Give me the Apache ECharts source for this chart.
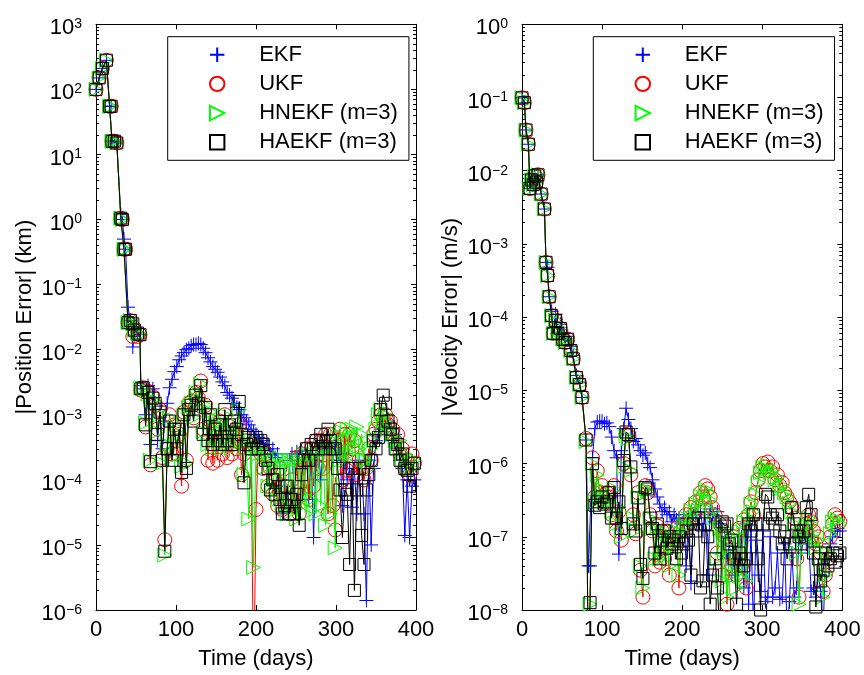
<!DOCTYPE html>
<html><head><meta charset="utf-8">
<script src="https://cdn.jsdelivr.net/npm/echarts@6/dist/echarts.min.js"></script>
<style>html,body{margin:0;padding:0;background:#fff}#c{width:864px;height:675px}</style>
</head><body><div id="c"></div>
<script>
const SERIES_NAMES = ['EKF', 'UKF', 'HNEKF (m=3)', 'HAEKF (m=3)'];
const X_TITLE = 'Time (days)';
const Y_TITLE_LEFT = '|Position Error| (km)';
const Y_TITLE_RIGHT = '|Velocity Error| (m/s)';

// ---------- Left panel: position error (km) ----------
const L_DAYS = [0,4,8,13,17,19,20,23,26,31,33,35,37,40,43,46,48,52,55,
  56,59,62,65,68,71,74,77,80,83, 86,89,92,95,98,101,104,107,110,113,
  116,119,122,125,128,131,134,137,140,143, 146,149,152,155,158,161,164,167,170,173,
  176,179,182,185,188,191,194,197,
  200,203,206,209,212,215,218,221,224,227, 230,233,236,239,242,245,248,251,254,257,
  260,263,266,269,272,275,278,281,284,287, 290,293,296,299,302,305,308,311,314,317,
  320,323,326,329,332,335,338,341,344,347, 350,353,356,359,362,365,368,371,374,377,
  380,383,386,389,392,395,398];

const L_EKF = [100,150,210,280,55,55,16,16,15,1.2,1.0,0.5,0.35,0.045,0.028,0.011,0.02,0.018,0.017,
  2.8e-3,2.5e-3,1e-3,2.8e-3,3.5e-4,2.5e-3,1.5e-3,4e-4,1.2e-3,3e-4,
  8e-4,1.5e-3,2.6e-3,3.5e-3,4.6e-3,5.5e-3,7e-3,8e-3,9e-3,1e-2,
  1.05e-2,1.15e-2,1.2e-2,1.2e-2,1.25e-2,1.2e-2,1.05e-2,9e-3,7.5e-3,6.5e-3,
  5.5e-3,5e-3,4.5e-3,3.8e-3,3.2e-3,2.8e-3,2.2e-3,2e-3,1.8e-3,1.5e-3,
  1.3e-3,1.2e-3,1e-3,9e-4,8e-4,7e-4,6e-4,5.5e-4,
  5e-4,4.5e-4,3.5e-4,4e-4,3e-4,3.5e-4,2.5e-4,3e-4,2.2e-4,2.5e-4,
  1.5e-4,3e-5,8e-5,4e-5,2e-4,2.5e-4,6e-5,2.7e-4,2.5e-4,2.8e-4,
  1.5e-4,2.5e-4,5e-5,2.5e-4,1.3e-5,2e-4,3e-4,1e-4,3e-4,4e-4,
  3e-4,4e-4,2e-4,3.5e-4,2e-4,2.5e-4,4e-5,2.5e-4,1e-4,1.5e-4,
  3.8e-5,1.5e-4,3e-5,2e-4,1.5e-4,3e-5,1.4e-6,2e-4,1e-5,1.5e-4,
  4e-4,5e-4,6e-4,7e-4,5e-4,8e-4,6e-4,4e-4,5e-4,3e-4,
  2e-4,1.5e-4,1.4e-5,1e-4,1.3e-5,8e-5,1e-4];

const L_UKF = [100,150,210,280,55,55,16,16,15,1.05,1.0,0.35,0.35,0.026,0.028,0.016,0.02,0.016,0.017,
  2.4e-3,2.6e-3,6.5e-4,2.3e-3,1.7e-4,1.9e-3,1.4e-3,6e-4,1.2e-3,2.2e-4,
  1.2e-5,3e-4,1e-3,2.5e-4,7e-4,2.5e-4,5e-4,8e-5,1.1e-3,2e-4,
  1.5e-3,1.6e-3,9e-4,2.2e-3,1.8e-3,3.3e-3,6e-4,1.4e-3,2e-4,8e-4,
  1.8e-4,6e-4,2e-4,8e-4,2.5e-4,1e-3,2.2e-4,5e-4,2.5e-4,4e-4,
  3e-4,7e-4,1.2e-4,2.5e-4,4e-4,3.5e-4,3e-4,5e-8,
  3.5e-5,3e-4,2.5e-4,1.5e-4,2.5e-4,8e-5,1.5e-4,6e-5,1e-4,4e-5,
  1.5e-4,3.5e-5,8e-5,4e-5,3e-5,1e-4,4e-5,2.2e-4,3e-5,2.5e-4,
  6e-5,3e-4,5e-5,3e-4,8e-5,4e-4,1.5e-4,4e-4,1.5e-4,5e-4,
  3e-5,5e-4,4e-5,1.7e-5,4e-4,6e-4,1e-4,5e-4,1.4e-4,5e-4,
  3e-4,4e-4,1.2e-4,2e-4,1.5e-4,1e-4,1.5e-4,3e-4,2e-4,5e-4,
  6e-4,8e-4,1e-3,9e-4,1e-3,7e-4,8e-4,6e-4,4e-4,5e-4,
  2.5e-4,3e-4,1.5e-4,2e-4,1.2e-4,2.5e-4,1.8e-4];

const L_HNEKF = [100,150,210,280,55,55,16,16,15,1.05,1.0,0.35,0.35,0.026,0.028,0.025,0.02,0.018,0.017,
  2.6e-3,2.5e-3,7.5e-4,2.1e-3,2e-4,1.7e-3,1.6e-3,5.5e-4,1e-3,1.8e-4,
  7e-6,3.5e-4,9e-4,2.2e-4,5.5e-4,3.5e-4,6e-4,1.6e-4,1e-3,1.8e-4,
  1.3e-3,1.5e-3,9e-4,2.2e-3,1.7e-3,3e-3,5.5e-4,1.4e-3,3.5e-4,1.1e-3,
  3e-4,7e-4,4.5e-4,8e-4,3e-4,1e-3,3.5e-4,6e-4,3e-4,7e-4,
  5e-4,1.2e-3,4e-4,1.2e-4,3e-4,2.5e-5,4e-4,4.5e-6,
  3e-4,2.5e-4,3e-4,1.5e-4,2.5e-4,8e-5,2e-4,7e-5,2e-4,5e-5,
  2.2e-4,4e-5,2e-4,3e-5,2e-4,4e-5,2e-4,2.5e-5,2e-4,4e-5,
  2.5e-4,3e-5,2.5e-4,5e-5,2.5e-4,3e-5,2.5e-4,4e-5,3e-4,2e-5,
  3e-4,3e-5,4e-4,9e-6,5e-4,2e-4,5.5e-4,2e-4,6e-4,2.5e-4,
  6e-4,3e-4,6.5e-4,3e-4,5e-4,2e-4,2e-4,1.5e-4,3e-4,4e-4,
  6e-4,1e-3,1.2e-3,8e-4,1e-3,6e-4,7e-4,5e-4,4e-4,3e-4,
  4e-4,2e-4,2.5e-4,1.5e-4,2e-4,1.5e-4,2e-4];

const L_HAEKF = [100,150,210,280,55,55,16,16,15,1.05,1.0,0.35,0.35,0.026,0.028,0.025,0.02,0.018,0.017,
  2.5e-3,2.6e-3,7e-4,2.2e-3,1.9e-4,1.8e-3,1.5e-3,5e-4,1.1e-3,2e-4,
  8e-6,3e-4,8e-4,2e-4,6e-4,3e-4,6e-4,1.3e-4,1e-3,1.5e-4,
  1.2e-3,1.4e-3,8e-4,2e-3,1.5e-3,2.8e-3,5e-4,1.3e-3,4e-4,1e-3,
  3.5e-4,6e-4,4e-4,7e-4,3.5e-4,1.2e-3,4e-4,7e-4,3.5e-4,8e-4,
  6e-4,1.6e-3,5e-4,9e-5,3.5e-4,4.5e-4,3e-4,4e-4,
  4.5e-4,3e-4,4e-4,3.5e-4,2e-4,1.5e-4,7e-5,1e-4,6e-5,1.2e-4,
  5e-5,3e-5,4e-5,8e-5,3e-5,5e-5,3e-5,6e-5,2e-5,1.2e-4,
  2e-4,3e-4,2e-4,3.5e-4,3e-4,4e-4,3e-4,5e-4,4e-4,3e-4,
  6e-4,4e-4,3e-4,3e-4,1.5e-4,7e-5,1.3e-5,7e-5,6e-5,5e-6,
  1.5e-4,2e-6,7e-5,1.5e-4,1.4e-5,5e-6,7e-5,1.2e-4,2e-4,4e-4,
  3e-4,4.5e-4,1.2e-3,2e-3,1.5e-3,8e-4,6e-4,5e-4,3e-4,3.5e-4,
  2e-4,2.5e-4,1.5e-4,1.4e-4,8e-5,1.5e-4,1.8e-4];

// ---------- Right panel: velocity error (m/s) ----------
const R_DAYS = [0,3,5,8,10,12,14,16,18,20,24,28,30,32,34,37,39,42,45,48,51,54,57,61,64,68,72,75,80,83,85,88,
  91,94,97,100,103,106,109,112,115,118, 121,124,127,130,133,136,139,142,145,148,
  151,154,157,160,163,166,169,172,175,178, 181,184,187,190,193,196,199,202,205,208,
  211,214,217,220,223,226,229,232,235,238, 241,244,247,250,253,256,259,262,265,268,
  271,274,277,280,283,286,289,292,295,298, 301,304,307,310,313,316,319,322,325,328,
  331,334,337,340,343,346,349,352,355,358, 361,364,367,370,373,376,379,382,385,388,
  391,394,397];

const R_EKF = [0.099,0.085,0.036,0.023,5.7e-3,7.5e-3,6.5e-3,8.5e-3,7e-3,8.8e-3,4.8e-3,3e-3,5.6e-4,4.8e-4,1.9e-4,
  1.2e-4,7e-5,1.1e-4,6e-5,8e-5,6e-5,5e-5,5.5e-5,4e-5,3e-5,1.6e-5,1.3e-5,8e-6,2.1e-6,4e-8,4e-8,1.2e-6,
  3e-6,3.7e-6,3.8e-6,3.8e-6,3.5e-6,3.6e-6,3.2e-6,2.3e-6,1.5e-6,1.2e-6,
  5.8e-8,1.5e-6,3e-6,5.7e-6,4e-6,3e-6,2e-6,2.2e-6,1.8e-6,1.5e-6,
  1.3e-6,1.4e-6,1e-6,8.8e-7,6e-7,4.5e-7,3.5e-7,2.8e-7,2.2e-7,2.5e-7,
  2e-7,2.2e-7,1.6e-7,2e-7,1.7e-7,1.8e-7,1.5e-7,2e-7,4e-8,1.8e-7,
  2.3e-8,2e-7,2e-7,1.5e-7,2.2e-7,1.2e-7,2.2e-7,3e-8,2.4e-7,2e-7,
  1.6e-7,2.2e-7,1.5e-7,6e-8,1e-7,5e-8,8e-8,3e-8,5e-8,6e-8,
  4e-8,1e-7,2e-8,1.5e-7,1.2e-8,1.2e-7,6e-9,9e-8,3e-8,1.8e-8,
  1.2e-7,1.3e-8,1.5e-8,1e-7,1.5e-8,2e-8,6e-8,1.4e-8,1.5e-8,8e-8,
  5e-9,1.3e-8,6e-8,1.5e-8,2e-8,1e-7,6e-8,1.1e-7,8e-8,1e-7,
  1.8e-8,2e-8,1.5e-8,3e-8,1.8e-8,5e-9,5e-8,6e-8,8e-8,1e-7,
  1.2e-7,1.3e-7,1.2e-7];

const R_UKF = [0.099,0.085,0.036,0.023,5.7e-3,7.5e-3,6.5e-3,8.5e-3,7e-3,8.8e-3,4.8e-3,3e-3,5.6e-4,3.7e-4,1.9e-4,
  1.05e-4,6e-5,9e-5,6e-5,7e-5,5e-5,4.5e-5,5e-5,3.5e-5,2.7e-5,1.5e-5,1.2e-5,8e-6,2.2e-6,1e-9,1e-9,1.2e-6,
  3.5e-7,8e-7,4e-7,5e-7,3e-7,4e-7,3.5e-7,2e-7,5e-7,1.2e-7,
  2.2e-7,9e-8,1e-6,2.5e-6,2.4e-6,7e-7,2e-7,1.1e-7,4e-7,3.5e-8,
  1.5e-8,5e-7,4e-7,2e-7,1.2e-7,4e-8,1.4e-7,4.5e-8,1.2e-7,5e-8,
  1.2e-7,3e-8,1e-7,8e-8,1.3e-7,2e-8,1.2e-7,1.5e-7,2e-7,1.5e-7,
  2.5e-7,2e-7,3e-7,2.5e-7,4e-7,3.5e-7,5e-7,4.5e-7,3.5e-7,2.5e-7,
  2e-7,6e-8,1.5e-7,3e-8,1e-7,1.2e-8,6e-8,4e-8,1e-7,3e-8,
  1.3e-7,4e-8,1.7e-7,2e-8,2e-7,3e-7,2e-7,4e-7,6e-7,8e-7,
  1e-6,9e-7,1.05e-6,8e-7,9e-7,6e-7,7e-7,5e-7,5.5e-7,4e-7,
  3.5e-7,3e-7,2.5e-7,1.8e-7,5e-8,1.5e-8,1.2e-7,1e-7,1.5e-7,2e-7,
  1.6e-7,1.2e-7,8e-8,1e-7,6e-8,1.8e-8,3e-8,5e-8,1e-7,1.5e-7,
  2e-7,1.8e-7,1.6e-7];

const R_HNEKF = [0.099,0.085,0.036,0.023,5.7e-3,7.5e-3,6.5e-3,8.5e-3,7e-3,8.8e-3,4.8e-3,3e-3,5.6e-4,3.7e-4,1.9e-4,
  1.05e-4,6e-5,9e-5,6e-5,7e-5,5e-5,4.5e-5,5e-5,3.5e-5,2.7e-5,1.5e-5,1.2e-5,8e-6,2e-6,1e-9,1.2e-8,1e-6,
  3e-7,7e-7,3.5e-7,4.5e-7,3e-7,3.5e-7,3e-7,2.2e-7,4.5e-7,1.5e-7,
  2.5e-7,1e-7,9e-7,2.4e-6,2.2e-6,8e-7,1.8e-7,1.2e-7,3.5e-7,4e-8,
  2e-8,4.5e-7,4.2e-7,1.8e-7,1.3e-7,5e-8,1.3e-7,5e-8,1.1e-7,6e-8,
  1.1e-7,4e-8,9e-8,7e-8,1.2e-7,3e-8,1.1e-7,1.4e-7,1.8e-7,1.4e-7,
  2.3e-7,1.8e-7,2.8e-7,2.3e-7,3.6e-7,3.2e-7,4.5e-7,4e-7,3.2e-7,2.2e-7,
  1.8e-7,5e-8,1.3e-7,2.5e-8,1.1e-7,1.5e-8,7e-8,3e-8,1.1e-7,2e-8,
  1.2e-7,3e-8,1.6e-7,2.5e-8,1.8e-7,2.8e-7,2.2e-7,3.8e-7,5.5e-7,7.5e-7,
  9e-7,8.5e-7,9.5e-7,7.5e-7,8e-7,6e-7,6.5e-7,4.5e-7,5e-7,4e-7,
  3.5e-7,2.8e-7,2.2e-7,1.5e-7,6e-8,1.2e-8,1.1e-7,9e-8,1.4e-7,1.8e-7,
  1.5e-7,1.1e-7,7e-8,9e-8,5e-8,1.5e-8,3e-8,6e-8,1.1e-7,1.6e-7,
  1.8e-7,1.7e-7,1.5e-7];

const R_HAEKF = [0.099,0.085,0.036,0.023,5.7e-3,7.5e-3,6.5e-3,8.5e-3,7e-3,8.8e-3,4.8e-3,3e-3,5.6e-4,3.7e-4,1.9e-4,
  1.05e-4,6e-5,9e-5,6e-5,7e-5,5e-5,4.5e-5,5e-5,3.5e-5,2.7e-5,1.5e-5,1.2e-5,8e-6,2.1e-6,1e-9,1.26e-8,1e-6,
  2.7e-7,3e-7,2.5e-7,3.5e-7,2.8e-7,3e-7,4e-7,1.8e-7,4.7e-7,1.8e-7,
  3e-7,1.3e-7,1.1e-6,2.7e-6,2.5e-6,9e-7,1.5e-7,1.2e-7,3.4e-7,4.2e-8,
  2.7e-8,4.7e-7,4.5e-7,1.8e-7,1.3e-7,6e-8,1.5e-7,5e-8,9e-8,1.2e-7,
  7e-8,1e-7,8e-8,9e-8,5e-8,1e-7,6e-8,8e-8,1.2e-7,9e-8,
  3e-8,1.5e-7,1.2e-7,1.8e-7,2e-8,2.5e-8,1.5e-7,1e-7,1.2e-8,3e-8,
  5e-8,2e-8,5e-9,1.6e-7,1.4e-7,1.5e-7,8e-8,9e-8,5e-8,1.2e-8,
  6e-8,5e-8,4e-8,5e-8,1.5e-7,1.2e-7,2e-7,1.5e-7,5e-8,1e-8,
  1.5e-7,3.8e-7,3.5e-7,2e-7,1.8e-7,1.5e-7,2e-7,1.2e-7,8e-8,1e-7,
  5e-8,8e-8,2.5e-7,1.5e-7,1.2e-7,1e-7,8e-8,1.2e-7,2.5e-7,3.8e-7,
  2e-7,6e-8,1.1e-8,5e-8,2.5e-8,3.5e-8,6e-8,4e-8,5e-8,6e-8,
  4.5e-8,5.5e-8,6e-8];

// ---------- styling ----------
const FONT = '"Liberation Sans", Arial, Helvetica, sans-serif';
const COLORS = ['#0000ff', '#ff0000', '#00ff00', '#000000'];
const SYMBOLS = ['path://M0,5L10,5M5,0L5,10', 'circle', 'path://M0,0L10,5L0,10Z', 'rect'];
const SIZES = [14, 14, 14, 12];

function supLabel(v) {
  const e = Math.round(Math.log10(v));
  return '{b|10}{s|' + (e < 0 ? '\u2212' + (-e) : String(e)) + '}';
}

// minor tick positions (2..9 x 10^d) expressed in decades, for a tick-only helper axis
function minorDecades(lo, hi) {
  const out = [];
  for (let d = lo; d < hi; d++) for (let k = 2; k <= 9; k++) out.push(d + Math.log10(k));
  return out;
}

function xAxis(gi, pos) {
  const bottom = pos === 'bottom';
  return {
    type: 'value', gridIndex: gi, position: pos, min: 0, max: 400, interval: 100,
    axisLine: { show: true, onZero: false, lineStyle: { color: '#000', width: 1 } },
    axisTick: { show: true, inside: true, length: 5, lineStyle: { color: '#000', width: 1 } },
    axisLabel: { show: bottom, fontSize: 22, color: '#000', fontFamily: FONT, margin: 9 },
    splitLine: { show: false },
    name: bottom ? X_TITLE : '', nameLocation: 'middle', nameGap: 38,
    nameTextStyle: { fontSize: 22, color: '#000', fontFamily: FONT }
  };
}

function yAxis(gi, pos, min, max, name) {
  const left = pos === 'left';
  return {
    type: 'log', logBase: 10, gridIndex: gi, position: pos, min: min, max: max, splitNumber: 10,
    axisLine: { show: true, onZero: false, lineStyle: { color: '#000', width: 1 } },
    axisTick: { show: true, inside: true, length: 5, lineStyle: { color: '#000', width: 1 } },
    minorTick: { show: false },
    axisLabel: {
      show: left, formatter: supLabel, margin: 14, padding: [8, 0, 0, 0],
      rich: {
        b: { fontSize: 22, fontFamily: FONT, color: '#000', verticalAlign: 'bottom', lineHeight: 22 },
        s: { fontSize: 14, fontFamily: FONT, color: '#000', verticalAlign: 'top', lineHeight: 14, padding: [0, 0, 14, 0] }
      }
    },
    splitLine: { show: false }, minorSplitLine: { show: false },
    name: left ? name : '', nameLocation: 'middle', nameGap: left ? 60 : 0,
    nameTextStyle: { fontSize: 22, color: '#000', fontFamily: FONT }
  };
}

function minorAxis(gi, pos, lo, hi) {
  return {
    type: 'value', gridIndex: gi, position: pos, min: lo, max: hi,
    axisLine: { show: false, onZero: false },
    axisTick: { show: true, inside: true, length: 3, customValues: minorDecades(lo, hi),
      lineStyle: { color: '#000', width: 1 } },
    axisLabel: { show: false }, splitLine: { show: false }
  };
}

function mkSeries(gi, days, vals, k) {
  return {
    name: SERIES_NAMES[k], type: 'line', xAxisIndex: gi * 2, yAxisIndex: gi * 4,
    data: days.map((d, i) => [d, vals[i]]),
    symbol: SYMBOLS[k], symbolSize: SIZES[k], showAllSymbol: true,
    itemStyle: { color: 'rgba(0,0,0,0)', borderColor: COLORS[k], borderWidth: 1 },
    lineStyle: { color: COLORS[k], width: 1 },
    emphasis: { disabled: true }, clip: true, z: 2 + k, animation: false
  };
}

function legend(left) {
  return {
    data: SERIES_NAMES, orient: 'vertical', left: left, top: 36.7,
    padding: [7, 11, 7, 11.5], itemWidth: 74, itemHeight: 18, itemGap: 7.2,
    borderColor: '#000', borderWidth: 1, backgroundColor: '#fff', selectedMode: false,
    textStyle: { fontSize: 22, color: '#000', fontFamily: FONT, lineHeight: 21 },
    lineStyle: { opacity: 0 }
  };
}

const chart = echarts.init(document.getElementById('c'), null, { renderer: 'canvas' });
chart.setOption({
  animation: false,
  backgroundColor: '#fff',
  textStyle: { fontFamily: FONT },
  grid: [
    { left: 96, top: 24.3, width: 320, height: 588.4 },
    { left: 522, top: 24.3, width: 320.3, height: 588.4 }
  ],
  xAxis: [xAxis(0, 'bottom'), xAxis(0, 'top'), xAxis(1, 'bottom'), xAxis(1, 'top')],
  yAxis: [
    yAxis(0, 'left', 1e-6, 1e3, Y_TITLE_LEFT), yAxis(0, 'right', 1e-6, 1e3, ''),
    minorAxis(0, 'left', -6, 3), minorAxis(0, 'right', -6, 3),
    yAxis(1, 'left', 1e-8, 1, Y_TITLE_RIGHT), yAxis(1, 'right', 1e-8, 1, ''),
    minorAxis(1, 'left', -8, 0), minorAxis(1, 'right', -8, 0)
  ],
  legend: [legend(167.7), legend(593.3)],
  series: [
    mkSeries(0, L_DAYS, L_EKF, 0), mkSeries(0, L_DAYS, L_UKF, 1),
    mkSeries(0, L_DAYS, L_HNEKF, 2), mkSeries(0, L_DAYS, L_HAEKF, 3),
    mkSeries(1, R_DAYS, R_EKF, 0), mkSeries(1, R_DAYS, R_UKF, 1),
    mkSeries(1, R_DAYS, R_HNEKF, 2), mkSeries(1, R_DAYS, R_HAEKF, 3)
  ]
});
</script>
</body></html>
